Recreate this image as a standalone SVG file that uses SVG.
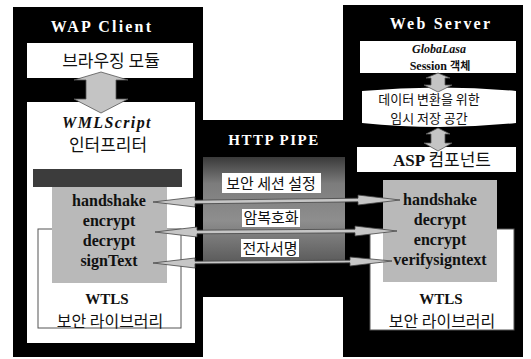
<svg xmlns="http://www.w3.org/2000/svg" width="531" height="359" viewBox="0 0 531 359">
<style>
.ttl{font-family:"Liberation Serif",serif;font-weight:bold;fill:#fff;text-anchor:middle}
.ser{font-family:"Liberation Serif",serif;font-weight:bold;fill:#111;text-anchor:middle}
.kr{font-family:"Noto Sans CJK KR",sans-serif;fill:#111;text-anchor:middle}
.box{fill:#fff}
.gray{fill:#b9b9b9}
.wtls{fill:#fff;stroke:#555;stroke-width:1}
.arr{fill:#c6c6c6;stroke:#444;stroke-width:0.8}
.varr{fill:#c4c4c4;stroke:#555;stroke-width:0.8}
</style>
<defs>
<linearGradient id="band" x1="0" y1="0" x2="0" y2="1">
<stop offset="0" stop-color="#3a3a3a"/>
<stop offset="0.25" stop-color="#7c7c7c"/>
<stop offset="0.6" stop-color="#8e8e8e"/>
<stop offset="1" stop-color="#5a5a5a"/>
</linearGradient>
</defs>
<rect width="531" height="359" fill="#fff"/>
<path id="frame" d="M13,7 H203 V120 H343 V5 H523 V357 H343 V297 H203 V357 H13 Z" fill="#000"/>

<g id="wap-client">
<text class="ttl" x="102" y="32" font-size="16" letter-spacing="2.2">WAP Client</text>
</g>
<g id="browsing-module">
<rect class="box" x="27" y="43" width="166" height="35"/>
<text class="kr" x="111" y="67" font-size="17">브라우징 모듈</text>
</g>
<g id="wmlscript">
<rect class="box" x="27" y="102" width="168" height="241"/>
<text class="ser" x="107" y="128" font-size="16" font-style="italic" letter-spacing="1.4">WMLScript</text>
<text class="kr" x="108" y="151" font-size="17">인터프리터</text>
<rect x="33" y="169" width="149" height="18" fill="#3c3c3c"/>
</g>
<g id="wtls-left">
<rect class="wtls" x="38" y="229" width="143" height="99"/>
<rect class="gray" x="52" y="187" width="115" height="96"/>
<text class="ser" x="109" y="206" font-size="16">handshake</text>
<text class="ser" x="109" y="226" font-size="16">encrypt</text>
<text class="ser" x="109" y="246" font-size="16">decrypt</text>
<text class="ser" x="109" y="266" font-size="16">signText</text>
<text class="ser" x="107" y="304" font-size="15">WTLS</text>
<text class="kr" x="110" y="327" font-size="16">보안 라이브러리</text>
</g>

<g id="http-pipe">
<text class="ttl" x="274" y="145" font-size="15" letter-spacing="1.5">HTTP PIPE</text>
<rect x="203" y="157" width="142" height="106" fill="url(#band)"/>
</g>
<g id="label-session">
<rect class="box" x="222" y="173" width="99" height="20"/>
<text class="kr" x="271" y="189" font-size="15">보안 세션 설정</text>
</g>
<g id="label-crypt">
<rect class="box" x="242" y="209" width="58" height="18"/>
<text class="kr" x="271" y="223" font-size="15">암복호화</text>
</g>
<g id="label-sign">
<rect class="box" x="241" y="239" width="58" height="18"/>
<text class="kr" x="270" y="254" font-size="15">전자서명</text>
</g>

<g id="web-server">
<text class="ttl" x="441" y="29" font-size="16" letter-spacing="2.2">Web Server</text>
</g>
<g id="session-object">
<rect class="box" x="360" y="41" width="156" height="32"/>
<text class="ser" x="439" y="53" font-size="12" font-style="italic">GlobaLasa</text>
<text class="ser" x="440" y="70" font-size="12">Session <tspan font-family="Noto Sans CJK KR, sans-serif" font-weight="bold" font-size="11">객체</tspan></text>
</g>
<g id="temp-storage">
<path class="box" d="M362,91 Q439,84 516,91 V123 Q439,131 362,123 Z"/>
<text class="kr" x="429" y="104" font-size="13">데이터 변환을 위한</text>
<text class="kr" x="429" y="123" font-size="13">임시 저장 공간</text>
</g>
<g id="asp-component">
<rect class="box" x="357" y="147" width="159" height="25"/>
<text class="ser" x="442" y="166" font-size="17">ASP <tspan font-family="Noto Sans CJK KR, sans-serif" font-weight="normal">컴포넌트</tspan></text>
</g>
<g id="wtls-right">
<rect class="wtls" x="370" y="229" width="144" height="101"/>
<rect class="gray" x="383" y="180" width="114" height="102"/>
<text class="ser" x="440" y="205" font-size="16">handshake</text>
<text class="ser" x="440" y="225" font-size="16">decrypt</text>
<text class="ser" x="440" y="245" font-size="16">encrypt</text>
<text class="ser" x="440" y="265" font-size="16">verifysigntext</text>
<text class="ser" x="441" y="304" font-size="15">WTLS</text>
<text class="kr" x="442" y="327" font-size="16">보안 라이브러리</text>
</g>

<g id="connectors">
<path class="varr" d="M101,72 L128,80 L116,80 L116,99 L128,99 L101,113 L74,99 L86,99 L86,80 L74,80 Z"/>
<path class="varr" d="M438,73 L450,78 L445,78 L445,85 L452,85 L438,92 L424,85 L431,85 L431,78 L426,78 Z"/>
<path class="varr" d="M438,128 L450,134 L445,134 L445,143 L452,143 L438,151 L424,143 L431,143 L431,134 L426,134 Z"/>
<path class="arr" d="M153,202 L195,197 L195,200.2 L358,198.2 L358,195 L400,200 L358,205 L358,201.8 L195,203.8 L195,207 Z"/>
<path class="arr" d="M155,232 L197,227 L197,230.2 L355,229.2 L355,226 L397,231 L355,236 L355,232.8 L197,233.8 L197,237 Z"/>
<path class="arr" d="M153,263 L195,258 L195,261.2 L350,260.2 L350,257 L392,261 L350,266 L350,262.8 L195,263.8 L195,268 Z"/>
</g>
</svg>
